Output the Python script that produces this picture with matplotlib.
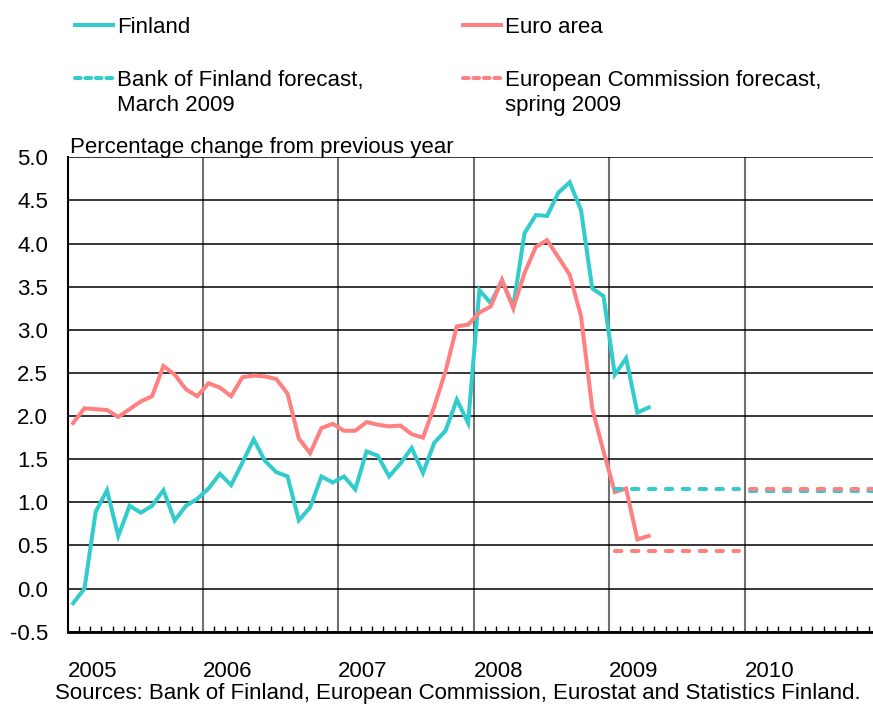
import matplotlib.pyplot as plt
from matplotlib.lines import Line2D
from matplotlib.ticker import MultipleLocator, FixedLocator
import numpy as np

plt.rcParams['font.family'] = ['Liberation Sans', 'DejaVu Sans']

# Monthly inflation, % change from previous year, Jan 2005 - Apr 2009
finland = [-0.17, 0.00, 0.89, 1.14, 0.61, 0.96, 0.88, 0.96, 1.14, 0.79, 0.96, 1.04,
           1.16, 1.33, 1.20, 1.46, 1.73, 1.48, 1.35, 1.30, 0.79, 0.94, 1.30, 1.23,
           1.30, 1.15, 1.59, 1.54, 1.30, 1.45, 1.63, 1.34, 1.69, 1.83, 2.19, 1.92,
           3.46, 3.31, 3.57, 3.27, 4.12, 4.33, 4.32, 4.59, 4.71, 4.39, 3.48, 3.39,
           2.48, 2.67, 2.04, 2.10]
euro_area = [1.92, 2.09, 2.08, 2.07, 1.99, 2.08, 2.17, 2.23, 2.58, 2.48, 2.31, 2.23,
             2.38, 2.33, 2.23, 2.45, 2.47, 2.46, 2.43, 2.26, 1.74, 1.57, 1.86, 1.91,
             1.83, 1.83, 1.93, 1.90, 1.88, 1.89, 1.79, 1.75, 2.11, 2.52, 3.04, 3.06,
             3.20, 3.27, 3.58, 3.25, 3.66, 3.96, 4.04, 3.84, 3.64, 3.16, 2.09, 1.59,
             1.12, 1.16, 0.57, 0.61]

# Annual forecasts
forecast_years = [2009, 2010]
bof_forecast = [1.15, 1.13]
ec_forecast = [0.43, 1.16]

years = [2005, 2006, 2007, 2008, 2009, 2010]

FI_COLOR = '#33CCCC'
EA_COLOR = '#FF8080'
LW = 2.9
DASH = (0, (1.6, 2.6))
FS = 16

fig = plt.figure(figsize=(8.73, 7.04), dpi=100)
W, H = 873, 704
x0, x1 = 67.5, 880.0
y_top, y_bot = 157.3, 631.7
ax = fig.add_axes([x0 / W, (H - y_bot) / H, (x1 - x0) / W, (y_bot - y_top) / H])

start = years[0]
months = np.arange(len(finland)) + 0.5
ax.plot(months, finland, color=FI_COLOR, lw=LW, solid_joinstyle='miter', zorder=3)
ax.plot(months, euro_area, color=EA_COLOR, lw=LW, solid_joinstyle='miter', zorder=4)

for yr, v in zip(forecast_years, bof_forecast):
    xs = (yr - start) * 12 + np.arange(12) + 0.5
    ax.plot(xs, [v] * 12, color=FI_COLOR, lw=LW, linestyle=DASH,
            dash_capstyle='round', zorder=5)
for yr, v in zip(forecast_years, ec_forecast):
    xs = (yr - start) * 12 + np.arange(12) + 0.5
    ax.plot(xs, [v] * 12, color=EA_COLOR, lw=LW, linestyle=DASH,
            dash_capstyle='round', zorder=6)

ax.set_xlim(0, 72)
ax.set_ylim(-0.5, 5.0)

# y axis
ax.yaxis.set_major_locator(MultipleLocator(0.5))
ax.yaxis.set_major_formatter(plt.FuncFormatter(lambda v, _: f'{v:.1f}'))
ax.tick_params(axis='y', length=0, pad=14, labelsize=FS)
ax.grid(axis='y', color='black', lw=1.1, zorder=1)

# x axis: years at boundaries, months as minor ticks
year_pos = [(y - start) * 12 for y in years]
ax.xaxis.set_major_locator(FixedLocator(year_pos))
ax.set_xticklabels([str(y) for y in years], ha='left')
ax.xaxis.set_minor_locator(MultipleLocator(1))
ax.tick_params(axis='x', which='major', length=0, pad=21, labelsize=FS)
ax.tick_params(axis='x', which='minor', direction='in', length=4, width=1.0, color='black')
for p in year_pos[1:]:
    ax.axvline(p, color='#707070', lw=1.5, zorder=1)

for s in ['top', 'right']:
    ax.spines[s].set_visible(False)
ax.spines['left'].set_linewidth(1.5)
ax.spines['bottom'].set_linewidth(2.0)

# Legend and labels in figure pixel space
ov = fig.add_axes([0, 0, 1, 1], facecolor='none')
ov.set_xlim(0, W)
ov.set_ylim(H, 0)
ov.axis('off')

legend_items = [
    (75, 25, FI_COLOR, '-', ['Finland']),
    (463, 25, EA_COLOR, '-', ['Euro area']),
    (75, 78, FI_COLOR, '--', ['Bank of Finland forecast,', 'March 2009']),
    (463, 78, EA_COLOR, '--', ['European Commission forecast,', 'spring 2009']),
]
for lx, ly, col, ls, lines in legend_items:
    style = '-' if ls == '-' else (0, (1.4, 1.2))
    ov.add_line(Line2D([lx, lx + 38], [ly, ly], color=col, lw=LW, linestyle=style,
                       dash_capstyle='round'))
    for k, line in enumerate(lines):
        ov.text(lx + 42, ly + 25 * k, line, fontsize=FS, va='center_baseline', ha='left')

ov.text(70, 145, 'Percentage change from previous year', fontsize=FS,
        va='center_baseline', ha='left')
ov.text(458, 691, 'Sources: Bank of Finland, European Commission, Eurostat and Statistics Finland.',
        fontsize=FS, va='center_baseline', ha='center')

fig.savefig('out.png', dpi=100)
